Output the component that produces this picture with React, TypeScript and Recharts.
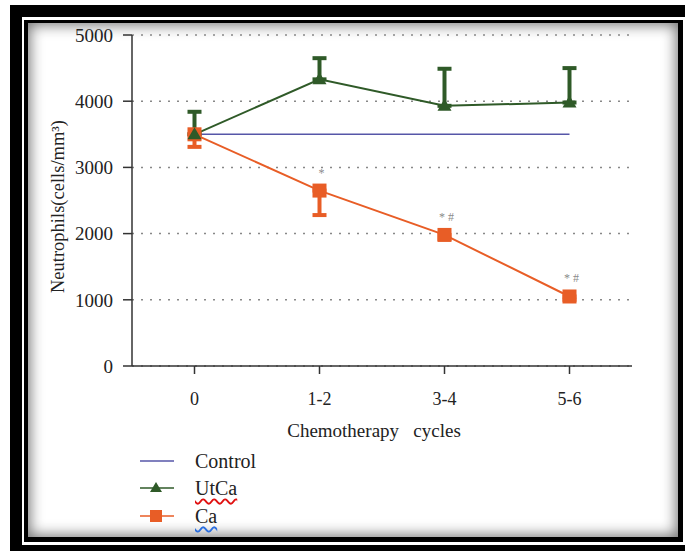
import { ComposedChart, Line, XAxis, YAxis, CartesianGrid, ErrorBar, LabelList } from "recharts";

const cycles = ["0", "1-2", "3-4", "5-6"];
const control = [3500, 3500, 3500, 3500];
const utca = [3500, 4330, 3930, 3980];
const utcaUp = [340, 320, 560, 520];
const ca = [3500, 2650, 1980, 1050];
const caDown = [190, 370, 60, 50];
const caMarks = ["", "*", "* #", "* #"];
const yTicks = [0, 1000, 2000, 3000, 4000, 5000];

const BLUE = "#5656a8";
const GREEN = "#2f5a28";
const ORANGE = "#e85d26";
const FONT = "Liberation Serif, DejaVu Serif, serif";

const data = cycles.map((c, i) => ({
  cycle: c,
  control: control[i],
  utca: utca[i],
  utcaErr: [0, utcaUp[i]],
  ca: ca[i],
  caErr: [caDown[i], 0],
  mark: caMarks[i],
}));

const series = [
  { name: "Control", color: BLUE, shape: "none", wavy: "" },
  { name: "UtCa", color: GREEN, shape: "triangle", wavy: "#e01010" },
  { name: "Ca", color: ORANGE, shape: "square", wavy: "#2a6ee0" },
];

const TriangleDot = (p: any) => {
  const { cx, cy, index } = p;
  return (
    <path
      key={`tri-${index}`}
      d={`M${cx},${cy - 7}L${cx + 7},${cy + 5}L${cx - 7},${cy + 5}Z`}
      fill={GREEN}
    />
  );
};

const SquareDot = (p: any) => {
  const { cx, cy, index } = p;
  return <rect key={`sq-${index}`} x={cx - 7} y={cy - 7} width={14} height={14} fill={ORANGE} />;
};

const MarkLabel = (p: any) => {
  const { x, y, value } = p;
  if (!value) return null;
  return (
    <text x={x + 2} y={y - 14} textAnchor="middle" fontSize={12} fill="#8a8a8a" fontFamily={FONT}>
      {value}
    </text>
  );
};

const YLabel = (p: any) => {
  const vb = p.viewBox;
  const x = vb.x - 14;
  const y = vb.y + vb.height / 2 + 6;
  return (
    <text
      x={x}
      y={y}
      transform={`rotate(-90 ${x} ${y})`}
      textAnchor="middle"
      dominantBaseline="central"
      fontSize={18.5}
      fill="#222"
      fontFamily={FONT}
    >
      Neutrophils(cells/mm³)
    </text>
  );
};

const XLabel = (p: any) => {
  const vb = p.viewBox;
  return (
    <text
      x={vb.x + vb.width / 2 - 8}
      y={vb.y + 71}
      textAnchor="middle"
      fontSize={19}
      fill="#222"
      fontFamily={FONT}
      style={{ whiteSpace: "pre" }}
    >
      {"Chemotherapy   cycles"}
    </text>
  );
};

function LegendSymbol({ color, shape }: { color: string; shape: string }) {
  return (
    <svg width={34} height={14} style={{ display: "block" }}>
      <line x1={0} y1={7} x2={34} y2={7} stroke={color} strokeWidth={1.5} />
      {shape === "triangle" && <path d="M16,1L22,11L10,11Z" fill={color} />}
      {shape === "square" && <rect x={10} y={1} width={12} height={12} fill={color} />}
    </svg>
  );
}

export default function App() {
  return (
    <div
      style={{
        position: "fixed",
        left: 0,
        top: 0,
        width: 685,
        height: 551,
        overflow: "hidden",
        background: "#fff",
        fontFamily: FONT,
      }}
    >
      <div style={{ position: "absolute", left: 10, top: 5, width: 700, height: 560, background: "#000" }} />
      <div style={{ position: "absolute", left: 22, top: 17, width: 663, height: 528, background: "#fff" }} />
      <div
        style={{
          position: "absolute",
          left: 24,
          top: 20,
          width: 659,
          height: 522,
          boxSizing: "border-box",
          borderStyle: "solid",
          borderColor: "#000",
          borderWidth: "3px 5px 5px 4px",
          background: "#fff",
          boxShadow: "inset 0 0 14px 2px rgba(0,0,0,0.55)",
        }}
      />
      <div style={{ position: "absolute", left: 0, top: 0 }}>
        <ComposedChart width={685} height={551} data={data} margin={{ top: 35, right: 53, bottom: 155, left: 72 }}>
          <CartesianGrid vertical={false} stroke="#888" strokeWidth={1.5} strokeDasharray="2 7" />
          <XAxis
            dataKey="cycle"
            height={30}
            padding={{ left: 62.5, right: 62.5 }}
            tickSize={8}
            tickMargin={18}
            stroke="#333"
            strokeWidth={1.5}
            tick={{ fontSize: 18, fill: "#222", fontFamily: FONT }}
            label={<XLabel />}
          />
          <YAxis
            domain={[0, 5000]}
            ticks={yTicks}
            width={60}
            tickSize={9}
            tickMargin={10}
            stroke="#333"
            strokeWidth={1.5}
            allowDataOverflow
            tick={{ fontSize: 19, fill: "#222", fontFamily: FONT }}
            label={<YLabel />}
          />
          <Line
            dataKey="control"
            stroke={BLUE}
            strokeWidth={1.5}
            dot={false}
            activeDot={false}
            isAnimationActive={false}
          />
          <Line
            dataKey="ca"
            stroke={ORANGE}
            strokeWidth={2}
            dot={SquareDot}
            activeDot={false}
            isAnimationActive={false}
          >
            <ErrorBar dataKey="caErr" width={7} strokeWidth={4} stroke={ORANGE} direction="y" />
            <LabelList dataKey="mark" content={<MarkLabel />} />
          </Line>
          <Line
            dataKey="utca"
            stroke={GREEN}
            strokeWidth={2}
            dot={TriangleDot}
            activeDot={false}
            isAnimationActive={false}
          >
            <ErrorBar dataKey="utcaErr" width={7} strokeWidth={4} stroke={GREEN} direction="y" />
          </Line>
        </ComposedChart>
      </div>
      <div style={{ position: "absolute", left: 140, top: 447, fontSize: 20, color: "#222" }}>
        {series.map((s) => (
          <div key={s.name} style={{ display: "flex", alignItems: "center", height: 27.5 }}>
            <LegendSymbol color={s.color} shape={s.shape} />
            <span
              style={{
                marginLeft: 21,
                lineHeight: "20px",
                textDecorationLine: s.wavy ? "underline" : "none",
                textDecorationStyle: "wavy",
                textDecorationColor: s.wavy || "transparent",
                textUnderlineOffset: 3,
              }}
            >
              {s.name}
            </span>
          </div>
        ))}
      </div>
    </div>
  );
}
